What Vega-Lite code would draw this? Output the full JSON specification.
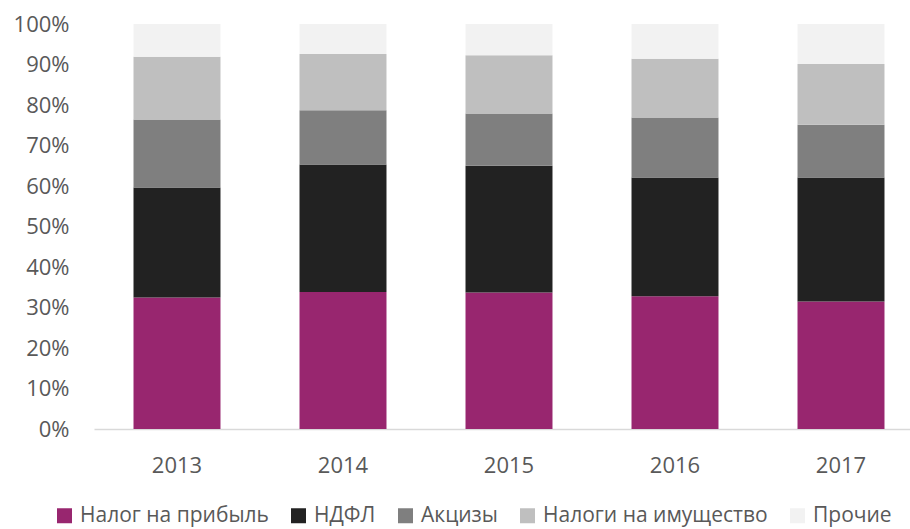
{
  "$schema": "https://vega.github.io/schema/vega-lite/v6.json",
  "width": 830,
  "height": 405,
  "autosize": {"type": "none"},
  "padding": {"left": 94, "top": 24, "right": 0, "bottom": 100},
  "background": "white",
  "config": {
    "font": "Open Sans",
    "view": {"stroke": null},
    "axis": {"grid": false, "ticks": false, "labelFont": "Open Sans", "labelFontSize": 22, "labelColor": "#595959", "titleFontSize": 0},
    "legend": {"labelFont": "Open Sans", "labelFontSize": 21, "labelColor": "#595959"}
  },
  "data": {
    "values": [
      {"year": "2013", "tax": "Налог на прибыль", "rank": 1, "share": 0.325},
      {"year": "2013", "tax": "НДФЛ", "rank": 2, "share": 0.271},
      {"year": "2013", "tax": "Акцизы", "rank": 3, "share": 0.168},
      {"year": "2013", "tax": "Налоги на имущество", "rank": 4, "share": 0.155},
      {"year": "2013", "tax": "Прочие", "rank": 5, "share": 0.081},
      {"year": "2014", "tax": "Налог на прибыль", "rank": 1, "share": 0.338},
      {"year": "2014", "tax": "НДФЛ", "rank": 2, "share": 0.315},
      {"year": "2014", "tax": "Акцизы", "rank": 3, "share": 0.134},
      {"year": "2014", "tax": "Налоги на имущество", "rank": 4, "share": 0.139},
      {"year": "2014", "tax": "Прочие", "rank": 5, "share": 0.074},
      {"year": "2015", "tax": "Налог на прибыль", "rank": 1, "share": 0.337},
      {"year": "2015", "tax": "НДФЛ", "rank": 2, "share": 0.313},
      {"year": "2015", "tax": "Акцизы", "rank": 3, "share": 0.129},
      {"year": "2015", "tax": "Налоги на имущество", "rank": 4, "share": 0.144},
      {"year": "2015", "tax": "Прочие", "rank": 5, "share": 0.077},
      {"year": "2016", "tax": "Налог на прибыль", "rank": 1, "share": 0.328},
      {"year": "2016", "tax": "НДФЛ", "rank": 2, "share": 0.293},
      {"year": "2016", "tax": "Акцизы", "rank": 3, "share": 0.148},
      {"year": "2016", "tax": "Налоги на имущество", "rank": 4, "share": 0.145},
      {"year": "2016", "tax": "Прочие", "rank": 5, "share": 0.086},
      {"year": "2017", "tax": "Налог на прибыль", "rank": 1, "share": 0.315},
      {"year": "2017", "tax": "НДФЛ", "rank": 2, "share": 0.306},
      {"year": "2017", "tax": "Акцизы", "rank": 3, "share": 0.130},
      {"year": "2017", "tax": "Налоги на имущество", "rank": 4, "share": 0.150},
      {"year": "2017", "tax": "Прочие", "rank": 5, "share": 0.099}
    ]
  },
  "mark": {"type": "bar"},
  "encoding": {
    "x": {
      "field": "year", "type": "nominal", "title": null,
      "scale": {"paddingInner": 0.476, "paddingOuter": 0.238},
      "axis": {"labelAngle": 0, "domainColor": "#D9D9D9", "domainWidth": 1.5, "labelPadding": 26}
    },
    "y": {
      "field": "share", "type": "quantitative", "stack": "zero", "title": null,
      "scale": {"domain": [0, 1], "nice": false},
      "axis": {"values": [0, 0.1, 0.2, 0.3, 0.4, 0.5, 0.6, 0.7, 0.8, 0.9, 1], "format": ".0%", "domain": false, "labelPadding": 25}
    },
    "color": {
      "field": "tax", "type": "nominal", "title": null,
      "sort": ["Налог на прибыль", "НДФЛ", "Акцизы", "Налоги на имущество", "Прочие"],
      "scale": {
        "domain": ["Налог на прибыль", "НДФЛ", "Акцизы", "Налоги на имущество", "Прочие"],
        "range": ["#98266F", "#222222", "#7F7F7F", "#BFBFBF", "#F2F2F2"]
      },
      "legend": {
        "orient": "none", "direction": "horizontal", "columns": 5,
        "legendX": -40, "legendY": 481, "padding": 0,
        "symbolType": "square", "symbolSize": 225, "symbolStrokeWidth": 0,
        "labelOffset": 5, "columnPadding": 19, "labelLimit": 400
      }
    },
    "order": {"field": "rank", "type": "quantitative", "sort": "ascending"}
  }
}
